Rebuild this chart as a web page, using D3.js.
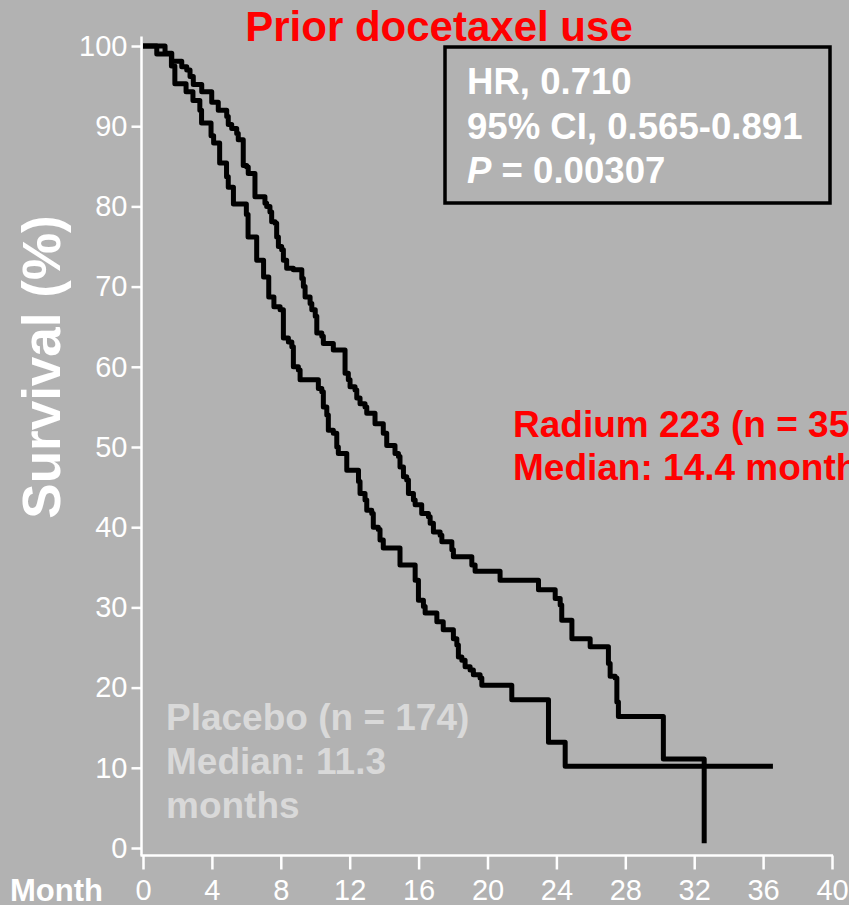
<!doctype html>
<html lang="en">
<head>
<meta charset="utf-8">
<title>Prior docetaxel use</title>
<style>
  body { margin: 0; background: #b2b2b2; }
  svg { display: block; font-family: "Liberation Sans", Arial, sans-serif; }
  .axis text { fill: #fff; font-size: 29px; }
  .axis line, .axis path { stroke: #fff; stroke-width: 2.5px; }
  .km { fill: none; stroke: #000; stroke-width: 5px; stroke-linejoin: round; }
</style>
</head>
<body>
<svg width="849" height="905"></svg>
<script src="https://cdn.jsdelivr.net/npm/d3@7"></script>
<script>

// Kaplan-Meier steps: [month, survival %]
var radium223 = [
  [0, 100], [1.28, 99.1], [1.67, 98.1], [2.25, 97.4], [2.54, 97.0], [2.73, 96.2], [2.92, 95.2],
  [3.41, 94.3], [3.99, 93.0], [4.37, 92.0], [4.86, 91.2], [4.95, 90.2], [5.15, 89.7], [5.44, 89.1],
  [5.53, 88.3], [5.82, 85.1], [6.02, 84.9], [6.11, 84.1], [6.50, 81.2], [7.08, 80.4], [7.18, 80.0],
  [7.37, 79.3], [7.47, 78.1], [7.67, 77.9], [7.76, 76.2], [7.86, 75.0], [8.05, 74.6], [8.15, 73.3],
  [8.34, 72.3], [8.73, 72.1], [9.22, 71.0], [9.31, 70.0], [9.41, 68.7], [9.70, 67.9], [9.80, 67.1],
  [10.0, 66.3], [10.09, 64.2], [10.38, 63.8], [10.47, 62.9], [11.05, 62.1], [11.73, 59.2], [11.92, 58.4],
  [12.02, 57.5], [12.31, 57.1], [12.41, 56.1], [12.6, 55.4], [12.89, 55.0], [12.99, 54.2], [13.47, 52.9],
  [13.95, 51.7], [14.15, 50.2], [14.63, 49.2], [14.83, 48.8], [14.92, 47.5], [15.12, 46.3], [15.31, 45.9],
  [15.41, 44.2], [15.7, 43.4], [15.8, 42.8], [16.18, 41.7], [16.57, 41.3], [16.67, 40.5], [16.86, 39.4],
  [17.25, 39.0], [17.35, 38.2], [17.93, 37.2], [18.02, 36.3], [19.09, 35.3], [19.28, 34.5], [20.73, 33.4],
  [22.96, 32.2], [23.93, 31.1], [24.22, 30.3], [24.31, 28.4], [24.9, 26.1], [25.96, 25.1], [27.02, 23.0],
  [27.12, 21.4], [27.41, 21.2], [27.51, 18.2], [27.6, 16.4], [30.21, 11.1], [32.58, 0.6]
];

var placebo = [
  [0, 100], [0.80, 99.0], [1.65, 97.5], [1.85, 95.3], [2.5, 94.3], [2.9, 93.2], [3.3, 92.0],
  [3.4, 90.4], [3.95, 88.8], [4.1, 87.9], [4.45, 85.4], [4.85, 83.7], [4.95, 82.4], [5.25, 80.3],
  [6.0, 79.0], [6.1, 76.2], [6.6, 73.3], [7.0, 71.2], [7.3, 68.7], [7.6, 67.5], [7.96, 67.1],
  [8.15, 63.6], [8.44, 63.1], [8.64, 62.5], [8.73, 60.0], [9.02, 59.6], [9.12, 58.4], [10.18, 57.3],
  [10.38, 56.9], [10.47, 55.0], [10.67, 54.0], [10.76, 52.1], [11.05, 51.7], [11.25, 50.0], [11.34, 49.2],
  [11.83, 47.1], [12.51, 45.7], [12.6, 44.2], [12.89, 43.4], [12.99, 42.1], [13.28, 41.7], [13.37, 40.0],
  [13.66, 39.7], [13.76, 38.4], [13.95, 37.4], [14.92, 35.3], [15.8, 33.4], [15.99, 30.9], [16.28, 30.1],
  [16.38, 29.3], [17.06, 28.2], [17.43, 27.2], [18.02, 26.1], [18.22, 25.3], [18.31, 23.8], [18.51, 23.4],
  [18.70, 22.6], [18.99, 22.2], [19.18, 21.6], [19.57, 21.2], [19.67, 20.3], [21.41, 18.5], [23.54, 13.2],
  [24.51, 10.2], [36.57, 10.2]
];

var monthTicks = [0, 4, 8, 12, 16, 20, 24, 28, 32, 36, 40];
var survivalTicks = [0, 10, 20, 30, 40, 50, 60, 70, 80, 90, 100];

var statsLines = ["HR, 0.710", "95% CI, 0.565-0.891"];
var radiumLabel = ["Radium 223 (n = 354)", "Median: 14.4 months"];
var placeboLabel = ["Placebo (n = 174)", "Median: 11.3", "months"];

var svg = d3.select("svg");

var x = d3.scaleLinear().domain([0, 40]).range([143, 832]),
    y = d3.scaleLinear().domain([0, 100]).range([848, 46]);

var axisX = 141.5,
    axisY = 855.5;

// y axis
var gy = svg.append("g")
    .attr("class", "axis")
    .attr("transform", "translate(" + axisX + ",0)")
    .call(d3.axisLeft(y).tickValues(survivalTicks).tickSize(10).tickPadding(4).tickSizeOuter(0));
gy.select(".domain").remove();
gy.append("line").attr("y1", y(101.2)).attr("y2", axisY);

// x axis
var gx = svg.append("g")
    .attr("class", "axis")
    .attr("transform", "translate(0," + axisY + ")")
    .call(d3.axisBottom(x).tickValues(monthTicks).tickSize(14).tickPadding(10).tickSizeOuter(0));
gx.select(".domain").remove();
gx.append("line").attr("x1", axisX - 1).attr("x2", x(40) + 1);

svg.append("text")
    .attr("x", 10)
    .attr("y", 901)
    .style("font", "bold 31px 'Liberation Sans', Arial, sans-serif")
    .style("fill", "#fff")
    .text("Month");

svg.append("text")
    .attr("transform", "translate(60,367) rotate(-90)")
    .attr("text-anchor", "middle")
    .style("font", "bold 53px 'Liberation Sans', Arial, sans-serif")
    .style("fill", "#fff")
    .text("Survival (%)");

// curves
var line = d3.line()
    .curve(d3.curveStepAfter)
    .x(function(d) { return x(d[0]); })
    .y(function(d) { return y(d[1]); });

svg.append("path").attr("class", "km").attr("d", line(placebo));
svg.append("path").attr("class", "km").attr("d", line(radium223));

// title
svg.append("text")
    .attr("x", 439)
    .attr("y", 41)
    .attr("text-anchor", "middle")
    .style("font", "bold 42px 'Liberation Sans', Arial, sans-serif")
    .style("fill", "#ff0000")
    .text("Prior docetaxel use");

// stats box
svg.append("rect")
    .attr("x", 445)
    .attr("y", 47)
    .attr("width", 385)
    .attr("height", 156)
    .style("fill", "none")
    .style("stroke", "#000")
    .style("stroke-width", 3.5);

var stats = svg.append("g")
    .style("font", "bold 36.6px 'Liberation Sans', Arial, sans-serif")
    .style("fill", "#fff");

stats.selectAll("text.stat")
    .data(statsLines)
    .enter().append("text")
    .attr("class", "stat")
    .attr("x", 467)
    .attr("y", function(d, i) { return 94 + i * 44.5; })
    .text(function(d) { return d; });

var pLine = stats.append("text").attr("x", 467).attr("y", 183);
pLine.append("tspan").style("font-style", "italic").text("P");
pLine.append("tspan").text(" = 0.00307");

// group labels
svg.append("g")
    .style("font", "bold 37px 'Liberation Sans', Arial, sans-serif")
    .style("fill", "#ff0000")
  .selectAll("text")
    .data(radiumLabel)
    .enter().append("text")
    .attr("x", 513)
    .attr("y", function(d, i) { return 437 + i * 43; })
    .text(function(d) { return d; });

svg.append("g")
    .style("font", "bold 37px 'Liberation Sans', Arial, sans-serif")
    .style("fill", "#d9d9d9")
  .selectAll("text")
    .data(placeboLabel)
    .enter().append("text")
    .attr("x", 166)
    .attr("y", function(d, i) { return 730 + i * 44; })
    .text(function(d) { return d; });

</script>
</body>
</html>
